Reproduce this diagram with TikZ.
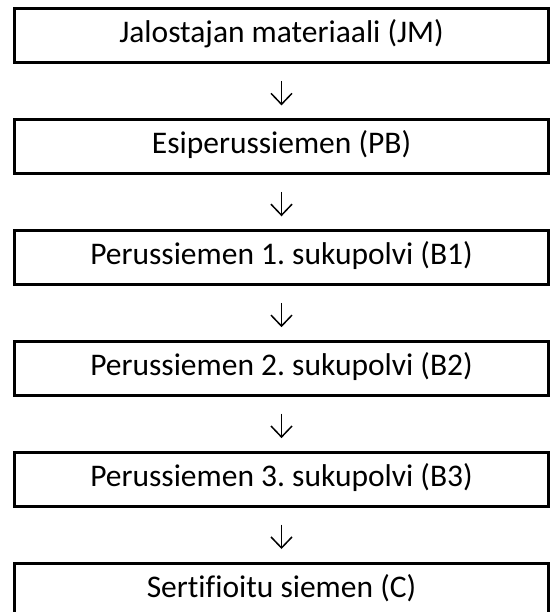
\documentclass[tikz,border=0pt]{standalone}
\usepackage{fontspec}
\setmainfont[Ligatures=CommonOff]{Carlito}
\frenchspacing
\usetikzlibrary{arrows.meta,positioning}

\begin{document}
\begin{tikzpicture}[x=1pt, y=1pt, node distance=56.4pt,
  stage/.style={draw, line width=3pt, outer sep=0pt, inner sep=0pt,
    minimum width=534pt, minimum height=54.5pt, text height=20pt, text depth=5.5pt,
    font=\fontsize{31.5}{38}\selectfont},
  flow/.style={line width=1.5pt, -{Straight Barb[length=11pt, width=21pt]},
    shorten <=18pt, shorten >=14pt}]
  \useasboundingbox (0,0) rectangle (551,-612);
  \clip (0,0) rectangle (551,-612);
  % seed classes, top to bottom
  \node[stage] (jm) at (281.5,-35.75) {Jalostajan materiaali (JM)};
  \node[stage, below=of jm] (pb) {Esiperussiemen (PB)};
  \node[stage, below=of pb] (b1) {Perussiemen 1. sukupolvi (B1)};
  \node[stage, below=of b1] (b2) {Perussiemen 2. sukupolvi (B2)};
  \node[stage, below=of b2] (b3) {Perussiemen 3. sukupolvi (B3)};
  \node[stage, below=of b3] (c) {Sertifioitu siemen (C)};
  \draw[flow] (jm) -- (pb);
  \draw[flow] (pb) -- (b1);
  \draw[flow] (b1) -- (b2);
  \draw[flow] (b2) -- (b3);
  \draw[flow] (b3) -- (c);
\end{tikzpicture}
\end{document}
